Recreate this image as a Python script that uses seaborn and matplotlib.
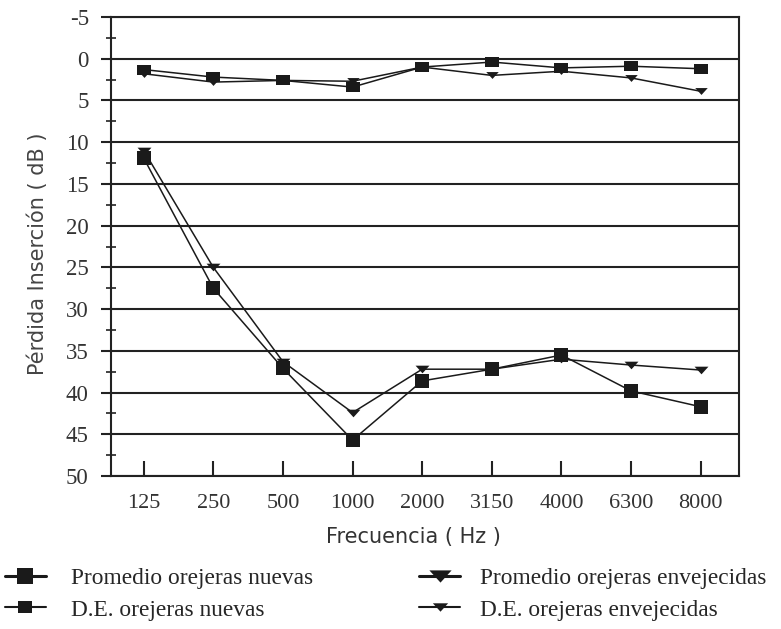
import numpy as np
import pandas as pd
import seaborn as sns
from matplotlib import pyplot as plt
from matplotlib.lines import Line2D
from matplotlib.ticker import MultipleLocator

# data
freqs = ['125', '250', '500', '1000', '2000', '3150', '4000', '6300', '8000']
prom_nuevas = [11.9, 27.5, 37.1, 45.7, 38.6, 37.2, 35.5, 39.8, 41.7]
prom_envejecidas = [11.0, 25.0, 36.3, 42.4, 37.2, 37.2, 36.0, 36.7, 37.3]
de_nuevas = [1.3, 2.2, 2.6, 3.4, 1.0, 0.4, 1.1, 0.9, 1.2]
de_envejecidas = [1.8, 2.8, 2.6, 2.7, 1.0, 2.0, 1.5, 2.3, 3.9]
yticks = list(range(-5, 51, 5))

labels = ['Promedio orejeras nuevas', 'D.E. orejeras nuevas',
          'Promedio orejeras envejecidas', 'D.E. orejeras envejecidas']

sns.set_style('ticks')
plt.rcParams['font.family'] = ['Liberation Serif', 'DejaVu Serif']

# flattened markers like the scanned original
tri = [(-1, 0.55), (1, 0.55), (0, -0.55), (-1, 0.55)]
rect = [(-1, -0.8), (1, -0.8), (1, 0.8), (-1, 0.8), (-1, -0.8)]

fig = plt.figure(figsize=(7.81, 6.29), dpi=100)
ax = fig.add_axes([0.1421, 0.2432, 0.8041, 0.7298])

series = [
    (prom_nuevas, 's', 10),
    (de_nuevas, rect, 9.5),
    (prom_envejecidas, tri, 10),
    (de_envejecidas, tri, 9),
]
for vals, mk, ms in series:
    df = pd.DataFrame({'freq': freqs, 'value': vals})
    sns.lineplot(data=df, x='freq', y='value', sort=False, ax=ax,
                 color='#1a1a1a', linewidth=1.1, marker=mk, markersize=ms,
                 markeredgewidth=0, legend=False)

ax.set_xlim(-0.47, 8.55)
ax.set_ylim(50, -5)
ax.set_yticks(yticks)
ax.set_yticklabels([str(v) for v in yticks])
ax.yaxis.set_minor_locator(MultipleLocator(2.5))

ax.yaxis.grid(True, which='major', color='#222222', linewidth=1.5)
ax.set_axisbelow(True)
for sp in ax.spines.values():
    sp.set_color('#222222')
    sp.set_linewidth(1.5)

ax.tick_params(axis='y', which='major', direction='out', length=7, width=1.5,
               pad=9, labelsize=16.5, labelcolor='#333333', color='#222222')
ax.tick_params(axis='y', which='minor', direction='inout', length=7, width=1.2,
               color='#222222')
ax.tick_params(axis='x', which='major', direction='in', length=11, width=1.5,
               pad=13, labelsize=16, labelcolor='#333333', color='#222222')

ax.set_xlabel('Frecuencia ( Hz )', fontsize=15, family='DejaVu Sans', color='#333333')
ax.xaxis.set_label_coords(0.481, -0.111)
ax.set_ylabel('Pérdida Inserción ( dB )', fontsize=15, family='DejaVu Sans', color='#444444')
ax.yaxis.set_label_coords(-0.100, 0.4837)

# legend below the plot, two columns
h_pn = Line2D([], [], color='#1a1a1a', lw=2.2, marker='s', ms=12, mew=0)
h_dn = Line2D([], [], color='#1a1a1a', lw=1.5, marker=rect, ms=10, mew=0)
h_pe = Line2D([], [], color='#1a1a1a', lw=2.2, marker=tri, ms=16, mew=0)
h_de = Line2D([], [], color='#1a1a1a', lw=1.5, marker=tri, ms=11, mew=0)

kw = dict(loc='upper left', frameon=False, fontsize=16.8, handlelength=1.75,
          labelspacing=0.45, borderpad=0, borderaxespad=0)
fig.legend([h_pn, h_dn], labels[:2], bbox_to_anchor=(0.0064, 0.098),
           handletextpad=1.1, **kw)
fig.legend([h_pe, h_de], labels[2:], bbox_to_anchor=(0.537, 0.098),
           handletextpad=0.85, **kw)

plt.savefig('out.png', dpi=100)
plt.close()
